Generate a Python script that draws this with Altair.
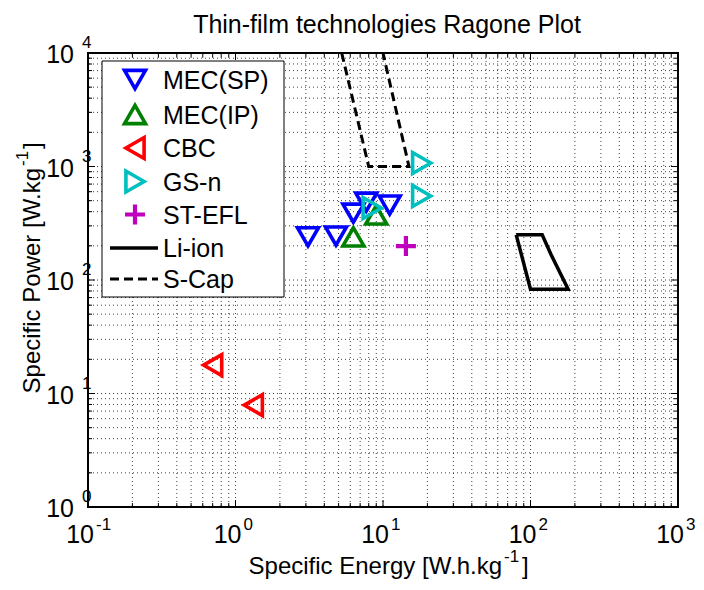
import altair as alt
import pandas as pd

# ---------------- data ----------------
mec_sp_energy = [3.1, 4.8, 6.3, 7.7, 11.1]
mec_sp_power = [240, 244, 388, 485, 457]
mec_ip_energy = [6.3, 9.0]
mec_ip_power = [240, 375]
cbc_energy = [0.70, 1.32]
cbc_power = [17.8, 7.9]
gsn_energy = [8.45, 18.3, 18.3]
gsn_power = [431, 550, 1074]
stefl_energy = [14.3]
stefl_power = [199]
liion_energy = [80, 120, 138, 180, 100, 80]
liion_power = [250, 250, 167, 83, 83, 250]
scap_energy = [5.25, 8, 15, 10]
scap_power = [10000, 1000, 1000, 10000]

legend_labels = ["MEC(SP)", "MEC(IP)", "CBC", "GS-n", "ST-EFL", "Li-ion", "S-Cap"]
x_decades = [-1, 0, 1, 2, 3]
y_decades = [0, 1, 2, 3, 4]
title_text = "Thin-film technologies Ragone Plot"
x_title = ["Specific Energy [W.h.kg", "-1", "]"]
y_title = ["Specific Power [W.kg", "-1", "]"]

# ---------------- layout ----------------
W, H = 590, 454
FONT = "Liberation Sans"
xs = alt.Scale(type="log", domain=[0.1, 1000])
ys = alt.Scale(type="log", domain=[1, 10000])

x_major = [10.0 ** e for e in x_decades]
y_major = [10.0 ** e for e in y_decades]
x_minor = [k * 10.0 ** e for e in x_decades[:-1] for k in range(2, 10)]
y_minor = [k * 10.0 ** e for e in y_decades[:-1] for k in range(2, 10)]

one = pd.DataFrame({"a": [0]})
layers = []

# grid (dotted, major + minor)
grid_style = dict(color="#000000", strokeDash=[1, 3], strokeWidth=1, opacity=0.75)
layers.append(alt.Chart(pd.DataFrame({"v": x_major + x_minor})).mark_rule(**grid_style)
              .encode(x=alt.X("v:Q", scale=xs, axis=None)))
layers.append(alt.Chart(pd.DataFrame({"v": y_major + y_minor})).mark_rule(**grid_style)
              .encode(y=alt.Y("v:Q", scale=ys, axis=None)))

# inward ticks on all four sides
def xticks(vals, L):
    d = pd.DataFrame({"v": vals})
    b = alt.Chart(d).mark_rule(color="black", strokeWidth=1).encode(
        x=alt.X("v:Q", scale=xs, axis=None), y=alt.value(H), y2=alt.value(H - L))
    t = alt.Chart(d).mark_rule(color="black", strokeWidth=1).encode(
        x=alt.X("v:Q", scale=xs, axis=None), y=alt.value(0), y2=alt.value(L))
    return [b, t]

def yticks(vals, L):
    d = pd.DataFrame({"v": vals})
    l = alt.Chart(d).mark_rule(color="black", strokeWidth=1).encode(
        y=alt.Y("v:Q", scale=ys, axis=None), x=alt.value(0), x2=alt.value(L))
    r = alt.Chart(d).mark_rule(color="black", strokeWidth=1).encode(
        y=alt.Y("v:Q", scale=ys, axis=None), x=alt.value(W), x2=alt.value(W - L))
    return [l, r]

layers += xticks(x_major, 7) + xticks(x_minor, 4) + yticks(y_major, 7) + yticks(y_minor, 4)

# tick labels 10^n
xl = pd.DataFrame({"v": x_major, "b": ["10"] * len(x_major), "e": [str(e) for e in x_decades]})
yl = pd.DataFrame({"v": y_major, "b": ["10"] * len(y_major), "e": [str(e) for e in y_decades]})
layers.append(alt.Chart(xl).mark_text(font=FONT, fontSize=25, align="right", baseline="alphabetic", dx=6)
              .encode(x=alt.X("v:Q", scale=xs, axis=None), y=alt.value(H + 36), text="b:N"))
layers.append(alt.Chart(xl).mark_text(font=FONT, fontSize=17, align="left", baseline="alphabetic", dx=8)
              .encode(x=alt.X("v:Q", scale=xs, axis=None), y=alt.value(H + 23), text="e:N"))
layers.append(alt.Chart(yl).mark_text(font=FONT, fontSize=25, align="right", baseline="alphabetic", dy=10)
              .encode(y=alt.Y("v:Q", scale=ys, axis=None), x=alt.value(-14), text="b:N"))
layers.append(alt.Chart(yl).mark_text(font=FONT, fontSize=17, align="left", baseline="alphabetic", dy=-5)
              .encode(y=alt.Y("v:Q", scale=ys, axis=None), x=alt.value(-6), text="e:N"))

# data series
def series_df(ex, py):
    return pd.DataFrame({"energy": ex, "power": py, "i": list(range(len(ex)))})

enc = dict(x=alt.X("energy:Q", scale=xs, axis=None), y=alt.Y("power:Q", scale=ys, axis=None))

BLUE, GREEN, RED, CYAN, MAG = "#0000ff", "#008000", "#ff0000", "#00bfbf", "#bf00bf"
PLUS = "M-1,0L1,0M0,-1L0,1"
marker_specs = [
    (mec_sp_energy, mec_sp_power, "triangle-down", BLUE, 440, 3.6),
    (mec_ip_energy, mec_ip_power, "triangle-up", GREEN, 440, 3.6),
    (cbc_energy, cbc_power, "triangle-left", RED, 440, 3.6),
    (gsn_energy, gsn_power, "triangle-right", CYAN, 440, 3.6),
    (stefl_energy, stefl_power, PLUS, MAG, 400, 4.2),
]

layers.append(alt.Chart(series_df(liion_energy, liion_power)).mark_line(
    color="black", strokeWidth=3.5, strokeJoin="miter").encode(order="i:Q", **enc))
layers.append(alt.Chart(series_df(scap_energy, scap_power)).mark_line(
    color="black", strokeWidth=3, strokeDash=[9, 5]).encode(order="i:Q", **enc))

for ex, py, shape, col, size, sw in marker_specs:
    layers.append(alt.Chart(series_df(ex, py)).mark_point(
        shape=shape, size=size, filled=False, color=col, strokeWidth=sw, opacity=1).encode(**enc))

# legend box
layers.append(alt.Chart(one).mark_rect(fill="white", stroke="black", strokeWidth=1).encode(
    x=alt.value(14), x2=alt.value(196), y=alt.value(8), y2=alt.value(244)))
leg_y = [26.5, 61.5, 95, 128.5, 161.5, 195, 226]
for k, (ex, py, shape, col, size, sw) in enumerate(marker_specs):
    layers.append(alt.Chart(one).mark_point(
        shape=shape, size=size, filled=False, color=col, strokeWidth=sw, opacity=1).encode(
        x=alt.value(47), y=alt.value(leg_y[k])))
layers.append(alt.Chart(one).mark_rule(color="black", strokeWidth=3.5).encode(
    x=alt.value(22), x2=alt.value(70), y=alt.value(leg_y[5])))
layers.append(alt.Chart(one).mark_rule(color="black", strokeWidth=3, strokeDash=[9, 5]).encode(
    x=alt.value(22), x2=alt.value(70), y=alt.value(leg_y[6])))
for k, lab in enumerate(legend_labels):
    layers.append(alt.Chart(one).mark_text(text=lab, font=FONT, fontSize=25, align="left",
                                           baseline="alphabetic").encode(
        x=alt.value(75), y=alt.value(leg_y[k] + 9)))

# title and axis titles
layers.append(alt.Chart(one).mark_text(text=title_text, font=FONT, fontSize=25, align="center",
                                       baseline="alphabetic").encode(x=alt.value(W / 2 + 4), y=alt.value(-20)))
layers.append(alt.Chart(one).mark_text(text=x_title[0], font=FONT, fontSize=24, align="right",
                                       baseline="alphabetic").encode(x=alt.value(414), y=alt.value(H + 67)))
layers.append(alt.Chart(one).mark_text(text=x_title[1], font=FONT, fontSize=17, align="left",
                                       baseline="alphabetic").encode(x=alt.value(416), y=alt.value(H + 55)))
layers.append(alt.Chart(one).mark_text(text=x_title[2], font=FONT, fontSize=24, align="left",
                                       baseline="alphabetic").encode(x=alt.value(434), y=alt.value(H + 67)))
layers.append(alt.Chart(one).mark_text(text=y_title[0], font=FONT, fontSize=24, align="right", angle=270,
                                       baseline="alphabetic").encode(x=alt.value(-48), y=alt.value(115)))
layers.append(alt.Chart(one).mark_text(text=y_title[1], font=FONT, fontSize=17, align="left", angle=270,
                                       baseline="alphabetic").encode(x=alt.value(-60), y=alt.value(113)))
layers.append(alt.Chart(one).mark_text(text=y_title[2], font=FONT, fontSize=24, align="left", angle=270,
                                       baseline="alphabetic").encode(x=alt.value(-48), y=alt.value(96)))

chart = alt.layer(*layers).properties(
    width=W, height=H,
    autosize=alt.AutoSizeParams(type="none"),
    padding={"left": 80, "top": 45, "right": 18, "bottom": 72},
).configure_view(stroke="black", strokeWidth=2)

chart.save("out.html", embed_options={"renderer": "svg", "actions": False})
